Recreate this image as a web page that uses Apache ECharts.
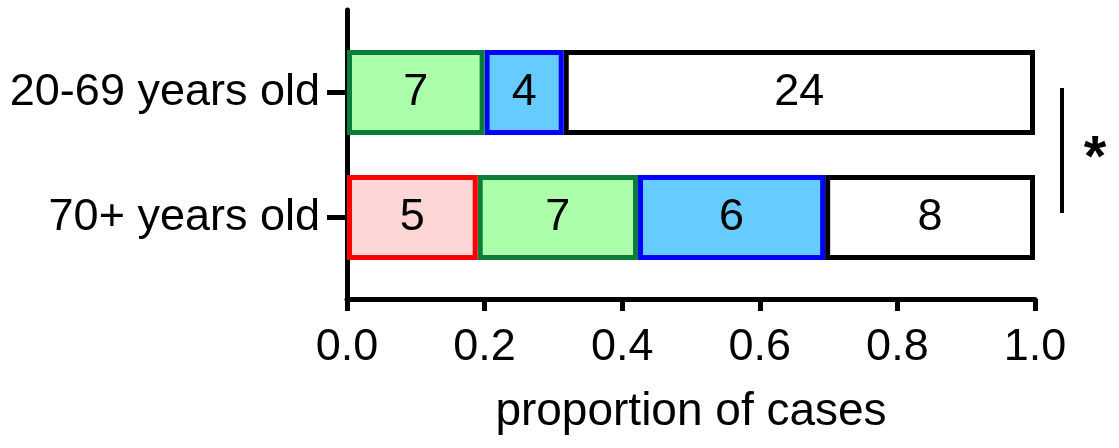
<!DOCTYPE html>
<html>
<head>
<meta charset="utf-8">
<script src="https://cdn.jsdelivr.net/npm/echarts@6/dist/echarts.min.js"></script>
<style>html,body{margin:0;padding:0;background:#fff}#c{width:1119px;height:448px}</style>
</head>
<body>
<div id="c"></div>
<script>
// categories, bottom to top
const categories = ['70+ years old', '20-69 years old'];
// proportions (per category, same order)
const redVals   = [0.19, null];
const greenVals = [0.233, 0.20];
const blueVals  = [0.272, 0.115];
const whiteVals = [0.305, 0.685];
// counts printed inside the segments
const redCounts   = [5, null];
const greenCounts = [7, 7];
const blueCounts  = [6, 4];
const whiteCounts = [8, 24];
const xTicks = [0, 0.2, 0.4, 0.6, 0.8, 1.0];
const xName = 'proportion of cases';
const sigMark = '*';

const FONT = "'Liberation Sans', Arial, sans-serif";
const chart = echarts.init(document.getElementById('c'), null, {renderer: 'canvas'});

function seg(name, vals, counts, fill, border, z) {
  return {
    name: name, type: 'bar', stack: 'total', xAxisIndex: 0, yAxisIndex: 0,
    barWidth: 85, z: z,
    data: vals.map(v => v == null ? '-' : v),
    itemStyle: {color: fill, borderColor: border, borderWidth: 5},
    label: {
      show: true, position: 'inside', color: '#000', fontSize: 45, fontFamily: FONT,
      formatter: p => counts[p.dataIndex] == null ? '' : String(counts[p.dataIndex])
    },
    emphasis: {disabled: true}, animation: false
  };
}

chart.setOption({
  animation: false,
  backgroundColor: '#fff',
  grid: [
    {left: 347, right: 84, top: 30, bottom: 168},
    {left: 347, right: 84, top: 10, bottom: 149}
  ],
  xAxis: [
    {gridIndex: 0, type: 'value', min: 0, max: 1, show: false},
    {gridIndex: 1, type: 'value', min: 0, max: 1, interval: 0.2,
     axisLine: {show: true, lineStyle: {color: '#000', width: 5}},
     axisTick: {show: true, length: 12, lineStyle: {color: '#000', width: 5}},
     splitLine: {show: false},
     axisLabel: {color: '#000', fontSize: 45, fontFamily: FONT, margin: 26,
       formatter: v => { const t = xTicks.find(k => Math.abs(k - v) < 1e-6); return t == null ? '' : t.toFixed(1); }},
     name: xName, nameLocation: 'middle', nameGap: 90,
     nameTextStyle: {color: '#000', fontSize: 46, fontFamily: FONT}}
  ],
  yAxis: [
    {gridIndex: 0, type: 'category', data: categories,
     axisLine: {show: false},
     axisTick: {show: true, alignWithLabel: true, length: 20, lineStyle: {color: '#000', width: 5}},
     axisLabel: {color: '#000', fontSize: 45, fontFamily: FONT, margin: 27},
     splitLine: {show: false}},
    {gridIndex: 1, type: 'value', min: 0, max: 1,
     axisLine: {show: true, lineStyle: {color: '#000', width: 5}},
     axisTick: {show: false}, axisLabel: {show: false}, splitLine: {show: false}}
  ],
  series: [
    seg('red', redVals, redCounts, '#FFD6D6', '#FF0000', 8),
    seg('green', greenVals, greenCounts, '#ABFFAB', '#0A7D3A', 7),
    seg('blue', blueVals, blueCounts, '#66CCFF', '#0000FF', 6),
    seg('white', whiteVals, whiteCounts, '#FFFFFF', '#000000', 5)
  ],
  graphic: [
    {type: 'line', shape: {x1: 1062, y1: 88, x2: 1062, y2: 213}, style: {stroke: '#000', lineWidth: 4}},
    {type: 'text', x: 1095, y: 160, style: {text: sigMark, font: 'bold 58px ' + FONT, fill: '#000', textAlign: 'center', textVerticalAlign: 'middle'}}
  ]
});
</script>
</body>
</html>
